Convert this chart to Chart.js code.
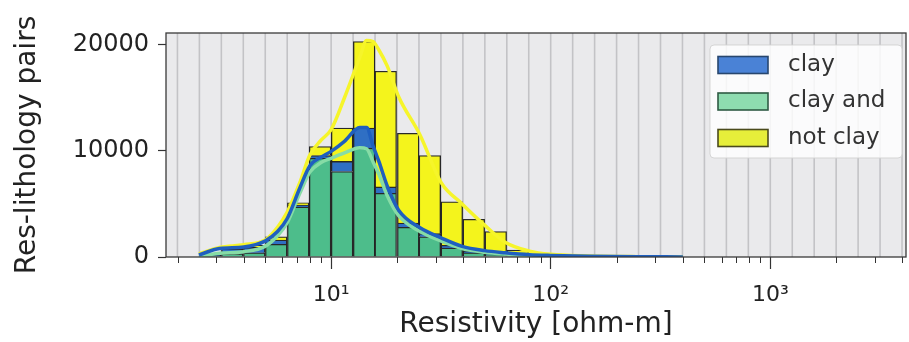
<!DOCTYPE html>
<html>
<head>
<meta charset="utf-8">
<script src="https://cdn.jsdelivr.net/npm/chart.js@4.4.1/dist/chart.umd.min.js"></script>
<style>
  html, body { margin: 0; background: #fff; }
</style>
</head>
<body>
<canvas id="resChart" width="909" height="342"></canvas>
<script>
// histogram bins: lower edge of each bin in ohm-m (10 log bins per decade)
const binLower = [2.51, 3.16, 3.98, 5.01, 6.31, 7.94, 10, 12.6, 15.8, 20, 25.1, 31.6, 39.8, 50.1, 63.1, 79.4, 100, 126, 158, 200];
const clayAnd = [100, 300, 400, 1200, 4700, 9300, 8050, 10250, 6000, 2800, 1900, 850, 400, 200, 100, 40, 10, 0, 0, 0];
const clay    = [50, 450, 500, 400, 200, 250, 950, 1900, 600, 400, 300, 250, 150, 100, 50, 30, 40, 30, 20, 10];
const notClay = [0, 150, 200, 300, 200, 850, 3150, 8150, 10900, 8450, 7350, 4100, 3000, 2100, 500, 80, 10, 0, 0, 0];

// stacked kde curves (height of each curve as drawn)
const kdeRes      = [2.5, 3.1, 4.0, 5.0, 5.7, 6.3, 7.2, 8.0, 9.0, 10, 11.5, 13.5, 14.5, 15.5, 16.5, 18, 20.3, 25.4, 31.7, 39.5, 50, 62, 80, 100, 150, 250, 400];
const kdeClayAnd  = [100, 350, 500, 1000, 2000, 3200, 6000, 8000, 8900, 9300, 9800, 10300, 10200, 9000, 7800, 5800, 3900, 2400, 1500, 800, 450, 280, 150, 80, 30, 8, 0];
const kdeClay     = [200, 800, 950, 1500, 2400, 3600, 6500, 8600, 9400, 9950, 10900, 12200, 12200, 10500, 9000, 6700, 4400, 2750, 1800, 1000, 600, 400, 220, 150, 80, 30, 5];
const kdeNotClay  = [300, 900, 1150, 1600, 2800, 4200, 7000, 9600, 11000, 12000, 15000, 18800, 20400, 20300, 19500, 18000, 15100, 11500, 7000, 5000, 3000, 1400, 550, 250, 100, 30, 5];

const xRange = [1.77, 4150];
const yMax = 21100;
const yTicks = [0, 10000, 20000];
const decadeTicks = [10, 100, 1000];
const supDigits = { 1: '\u00b9', 2: '\u00b2', 3: '\u00b3' };

const lg = Math.log10;
const binWidth = 0.1;

const bars = (vals) => binLower.map((lo, i) => ({ x: lg(lo) + binWidth / 2, y: vals[i] }));
const curve = (vals) => kdeRes.map((r, i) => ({ x: lg(r), y: vals[i] }));

const colors = {
  clayAnd: '#4dbd8b', clay: '#2f6fc4', notClay: '#f4f41c',
  lineClayAnd: '#86dca6', lineClay: '#1f5fbf', lineNotClay: '#f6f52a'
};
const legendItems = [
  { label: 'clay', fill: '#4a82d6', edge: '#27466e' },
  { label: 'clay and', fill: '#8edcb0', edge: '#2f5a44' },
  { label: 'not clay', fill: '#e6ee3a', edge: '#4a4a1c' }
];

const barStyle = {
  type: 'bar', barPercentage: 1, categoryPercentage: 1,
  borderColor: 'rgba(20,20,20,0.9)', borderWidth: 1.3, order: 3
};

const lineStyle = {
  type: 'line', pointRadius: 0, borderWidth: 3.5, fill: false,
  cubicInterpolationMode: 'monotone'
};

// light gray backdrop with a line at every bin edge, drawn under the bars
const backdrop = {
  id: 'backdrop',
  beforeDatasetsDraw(chart) {
    const { ctx, chartArea: a, scales: { x } } = chart;
    ctx.save();
    ctx.fillStyle = '#eaeaec';
    ctx.fillRect(a.left, a.top, a.right - a.left, a.bottom - a.top);
    ctx.strokeStyle = '#c3c3c6';
    ctx.lineWidth = 1.6;
    for (let k = 3; k <= 37; k++) {
      const px = x.getPixelForValue(k / 10);
      if (px <= a.left || px >= a.right) continue;
      ctx.beginPath();
      ctx.moveTo(px, a.top);
      ctx.lineTo(px, a.bottom);
      ctx.stroke();
    }
    ctx.restore();
  }
};

// frame, minor log ticks and the legend box
const overlay = {
  id: 'overlay',
  afterDraw(chart) {
    const { ctx, chartArea: a, scales: { x } } = chart;
    ctx.save();

    ctx.strokeStyle = '#333';
    ctx.lineWidth = 1;
    for (let d = 0; d <= 3; d++) {
      for (let m = 2; m <= 9; m++) {
        const v = m * Math.pow(10, d);
        if (v < xRange[0] || v > xRange[1]) continue;
        const px = Math.round(x.getPixelForValue(lg(v))) + 0.5;
        ctx.beginPath();
        ctx.moveTo(px, a.bottom);
        ctx.lineTo(px, a.bottom + 6);
        ctx.stroke();
      }
    }

    ctx.strokeStyle = '#3a3a3a';
    ctx.lineWidth = 1.3;
    ctx.strokeRect(a.left, a.top, a.right - a.left, a.bottom - a.top);

    const lx = a.right - 196, ly = a.top + 12, lw = 192, lh = 113;
    ctx.fillStyle = 'rgba(255,255,255,0.82)';
    ctx.strokeStyle = 'rgba(210,210,210,0.9)';
    ctx.lineWidth = 1;
    ctx.beginPath();
    ctx.roundRect(lx, ly, lw, lh, 4);
    ctx.fill();
    ctx.stroke();

    ctx.font = '23px "DejaVu Sans"';
    ctx.textBaseline = 'middle';
    legendItems.forEach((it, i) => {
      const cy = ly + 20 + i * 36.5;
      ctx.fillStyle = it.fill;
      ctx.fillRect(lx + 8, cy - 8.5, 50, 17);
      ctx.strokeStyle = it.edge;
      ctx.lineWidth = 1.6;
      ctx.strokeRect(lx + 8, cy - 8.5, 50, 17);
      ctx.fillStyle = '#333';
      ctx.fillText(it.label, lx + 78, cy);
    });
    ctx.restore();
  }
};

new Chart(document.getElementById('resChart'), {
  data: {
    datasets: [
      { ...barStyle, label: 'clay and', data: bars(clayAnd), backgroundColor: colors.clayAnd, stack: 'hist' },
      { ...barStyle, label: 'clay', data: bars(clay), backgroundColor: colors.clay, stack: 'hist' },
      { ...barStyle, label: 'not clay', data: bars(notClay), backgroundColor: colors.notClay, stack: 'hist' },
      { ...lineStyle, data: curve(kdeClayAnd), borderColor: colors.lineClayAnd, stack: 'k1', order: 2 },
      { ...lineStyle, data: curve(kdeNotClay), borderColor: colors.lineNotClay, stack: 'k3', order: 1.5 },
      { ...lineStyle, data: curve(kdeClay), borderColor: colors.lineClay, stack: 'k2', order: 1 }
    ]
  },
  options: {
    responsive: false,
    animation: false,
    devicePixelRatio: 1,
    layout: { padding: { left: 0, top: 33, right: 3, bottom: 0 } },
    plugins: { legend: { display: false }, tooltip: { enabled: false } },
    scales: {
      x: {
        type: 'linear',
        stacked: true,
        offset: false,
        min: lg(xRange[0]),
        max: lg(xRange[1]),
        afterBuildTicks: (s) => { s.ticks = decadeTicks.map(v => ({ value: lg(v) })); },
        afterFit: (s) => { s.height = 85; },
        grid: { drawOnChartArea: false, drawTicks: true, tickLength: 12, color: '#333', tickWidth: 1.2, offset: false },
        border: { display: false },
        ticks: {
          padding: 13,
          color: '#222',
          font: { family: 'DejaVu Sans', size: 22 },
          callback: (v) => '10' + supDigits[Math.round(v)]
        },
        title: {
          display: true,
          text: 'Resistivity [ohm-m]',
          color: '#222',
          font: { family: 'DejaVu Sans', size: 28 },
          padding: { top: 0, bottom: 0 }
        }
      },
      y: {
        stacked: true,
        min: 0,
        max: yMax,
        afterBuildTicks: (s) => { s.ticks = yTicks.map(v => ({ value: v })); },
        afterFit: (s) => { s.width = 166; },
        grid: { drawOnChartArea: false, drawTicks: true, tickLength: 8, color: '#333', tickWidth: 1.2 },
        border: { display: false },
        ticks: {
          padding: 9,
          color: '#222',
          font: { family: 'DejaVu Sans', size: 24 },
          callback: (v) => String(v)
        },
        title: {
          display: true,
          text: 'Res-lithology pairs',
          color: '#222',
          font: { family: 'DejaVu Sans', size: 28 },
          padding: { top: 11, bottom: 0 }
        }
      }
    }
  },
  plugins: [backdrop, overlay]
});
</script>
</body>
</html>
